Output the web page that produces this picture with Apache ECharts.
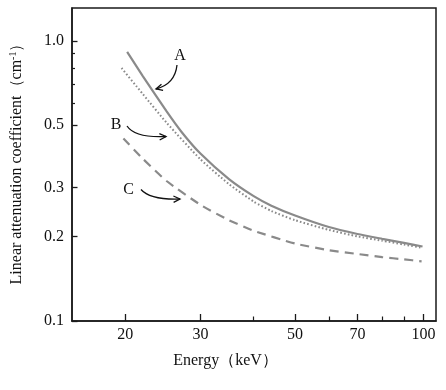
<!DOCTYPE html>
<html><head><meta charset="utf-8">
<script src="https://cdn.jsdelivr.net/npm/echarts@6/dist/echarts.min.js"></script>
<style>html,body{margin:0;padding:0;background:#fff}#c{width:446px;height:390px}</style>
</head><body><div id="c"></div>
<script>
// Data
const xMajorTicks = [20, 30, 50, 70, 100];
const xMinorTicks = [40, 60, 80, 90];
const yMajorTicks = [0.1, 0.2, 0.3, 0.5, 1.0];
const yMinorTicks = [0.6, 0.7, 0.8, 0.9];

const energyA = [20.2, 22, 25, 27.1, 30, 35, 40, 44, 50, 60, 70, 80, 90, 99.5];
const muA     = [0.913, 0.747, 0.56, 0.473, 0.396, 0.321, 0.279, 0.258, 0.238, 0.2165, 0.2045, 0.1965, 0.190, 0.1845];
const energyB = [19.6, 22, 25, 30, 35, 40, 44, 50, 60, 70, 80, 90, 99.5];
const muB     = [0.80, 0.645, 0.51, 0.378, 0.308, 0.267, 0.247, 0.229, 0.2115, 0.2005, 0.1935, 0.1875, 0.1825];
const energyC = [19.8, 22, 25, 30, 35, 40, 50, 60, 70, 80, 90, 99];
const muC     = [0.448, 0.379, 0.316, 0.260, 0.229, 0.210, 0.189, 0.179, 0.1735, 0.169, 0.166, 0.1633];

const FONT = '"Liberation Serif", "Times New Roman", serif';
const GRAY = '#8a8a8a';
const zip = (xs, ys) => xs.map((x, i) => [x, ys[i]]);

const chart = echarts.init(document.getElementById('c'), null, {renderer: 'canvas'});

function arrow(x1, y1, cx, cy, x2, y2) {
  const dx = x2 - cx, dy = y2 - cy, L = Math.hypot(dx, dy);
  const ux = dx / L, uy = dy / L, len = 6.5, w = 3.2;
  const bx = x2 - ux * len, by = y2 - uy * len;
  return [
    {type: 'bezierCurve', shape: {x1, y1, x2, y2, cpx1: cx, cpy1: cy},
     style: {stroke: '#111', lineWidth: 1.3, fill: null}},
    {type: 'polyline', shape: {points: [[bx - uy * w, by + ux * w], [x2, y2], [bx + uy * w, by - ux * w]]},
     style: {stroke: '#111', lineWidth: 1.3, fill: null}}
  ];
}
const letter = (t, x, y) => ({type: 'text', x, y,
  style: {text: t, font: '16px ' + FONT, fill: '#111', align: 'center', verticalAlign: 'middle'}});

const baseX = {type: 'log', logBase: 10, min: 15, max: 107, gridIndex: 0};
const baseY = {type: 'log', logBase: 10, min: 0.1, max: 1.31, gridIndex: 0};

chart.setOption({
  backgroundColor: '#fff',
  animation: false,
  grid: {left: 70, right: 10, top: 8, bottom: 69, show: true, borderColor: '#1a1a1a', borderWidth: 1.5, backgroundColor: 'transparent'},
  xAxis: [
    Object.assign({}, baseX, {
      name: 'Energy（keV）', nameLocation: 'middle', nameGap: 32,
      nameTextStyle: {fontFamily: FONT, fontSize: 16, color: '#111', padding: [0, 57, 0, 0]},
      axisLine: {show: true, lineStyle: {color: '#1a1a1a', width: 1.5}},
      axisTick: {show: true, inside: true, length: 7, lineStyle: {color: '#1a1a1a', width: 1.3}, customValues: xMajorTicks},
      axisLabel: {show: true, margin: 6, fontFamily: FONT, fontSize: 16, color: '#111', customValues: xMajorTicks,
        formatter: v => String(Math.round(v))},
      splitLine: {show: false}, minorTick: {show: false}
    }),
    Object.assign({}, baseX, {
      position: 'bottom',
      axisLine: {show: false},
      axisTick: {show: true, inside: true, length: 4.5, lineStyle: {color: '#1a1a1a', width: 1.2}, customValues: xMinorTicks},
      axisLabel: {show: false}, splitLine: {show: false}
    })
  ],
  yAxis: [
    Object.assign({}, baseY, {
      name: 'Linear attenuation coefficient（cm{sup|-1}）', nameLocation: 'middle', nameGap: 47, nameRotate: 90,
      nameTextStyle: {fontFamily: FONT, fontSize: 16, color: '#111', padding: [0, 0, 0, 9],
        rich: {sup: {fontFamily: FONT, fontSize: 10, color: '#111', verticalAlign: 'top', padding: [0, 0, 7, 0]}}},
      axisLine: {show: true, lineStyle: {color: '#1a1a1a', width: 1.5}},
      axisTick: {show: true, inside: true, length: 5.5, lineStyle: {color: '#1a1a1a', width: 1.3}, customValues: yMajorTicks},
      axisLabel: {show: true, margin: 8, fontFamily: FONT, fontSize: 16, color: '#111', customValues: yMajorTicks,
        formatter: v => (Math.round(v * 10) / 10).toFixed(1)},
      splitLine: {show: false}, minorTick: {show: false}
    }),
    Object.assign({}, baseY, {
      position: 'left',
      axisLine: {show: false},
      axisTick: {show: true, inside: true, length: 3, lineStyle: {color: '#1a1a1a', width: 1.2}, customValues: yMinorTicks},
      axisLabel: {show: false}, splitLine: {show: false}
    })
  ],
  series: [
    {name: 'A', type: 'line', data: zip(energyA, muA), smooth: 0.2, showSymbol: false,
     lineStyle: {color: GRAY, width: 2.2, type: 'solid'}},
    {name: 'B', type: 'line', data: zip(energyB, muB), smooth: 0.2, showSymbol: false,
     lineStyle: {color: GRAY, width: 2, type: [1.6, 2.2]}},
    {name: 'C', type: 'line', data: zip(energyC, muC), smooth: 0.2, showSymbol: false,
     lineStyle: {color: GRAY, width: 2.2, type: [9, 6]}}
  ],
  graphic: [
    letter('A', 180, 56), letter('B', 116, 124.5), letter('C', 128.5, 190)
  ].concat(arrow(177, 65, 175, 84, 156, 89))
   .concat(arrow(127, 126, 135, 138, 166, 136.5))
   .concat(arrow(141, 189.5, 150, 200, 180, 199))
});
</script></body></html>
